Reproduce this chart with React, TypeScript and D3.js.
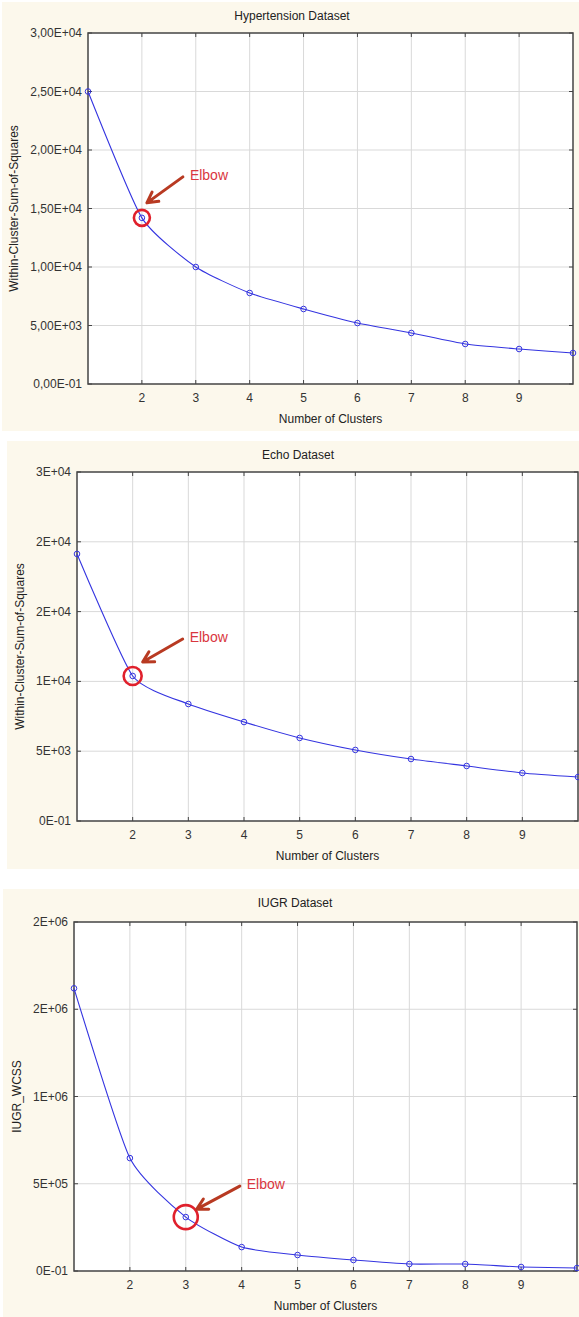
import React from "react";
import * as d3 from "d3";

// cluster counts on the x axis
const clusters = [1, 2, 3, 4, 5, 6, 7, 8, 9, 10];
const xTickValues = [2, 3, 4, 5, 6, 7, 8, 9];

// WCSS
const hypertensionWcss = [25000, 14200, 10000, 7780, 6410, 5210, 4360, 3420, 2990, 2650];
const echoWcss = [19130, 10390, 8380, 7090, 5950, 5090, 4440, 3940, 3440, 3150];
const iugrWcss = [1620000, 647000, 309000, 137000, 91600, 63000, 40000, 40000, 23000, 17000];

const hypertensionTicks = [0, 5000, 10000, 15000, 20000, 25000, 30000];
const hypertensionTickLabels = ["0,00E-01", "5,00E+03", "1,00E+04", "1,50E+04", "2,00E+04", "2,50E+04", "3,00E+04"];
const echoTicks = [0, 5000, 10000, 15000, 20000, 25000];
const echoTickLabels = ["0E-01", "5E+03", "1E+04", "2E+04", "2E+04", "3E+04"];
const iugrTicks = [0, 500000, 1000000, 1500000, 2000000];
const iugrTickLabels = ["0E-01", "5E+05", "1E+06", "2E+06", "2E+06"];

const FONT = "'Liberation Sans', Arial, sans-serif";
const LINE = "#3434e0";
const BG = "#fcf8ec";

type PanelProps = {
  title: string;
  yLabel: string;
  values: number[];
  ticks: number[];
  tickLabels: string[];
  bg: { x: number; y: number; w: number; h: number };
  plot: { left: number; top: number; right: number; bottom: number };
  titleX: number;
  yLabelX: number;
  elbow: number;
  elbowR: number;
  arrow: { tip: [number, number]; tail: [number, number] };
};

function Panel(p: PanelProps) {
  const { plot } = p;
  const x = d3.scaleLinear().domain([1, 10]).range([plot.left, plot.right]);
  const y = d3.scaleLinear().domain([0, p.ticks[p.ticks.length - 1]]).range([plot.bottom, plot.top]);
  const pts = clusters.map((c, i) => [x(c), y(p.values[i])] as [number, number]);
  const line = d3.line().curve(d3.curveCardinal.tension(0.45));

  const ex = x(clusters[p.elbow]);
  const ey = y(p.values[p.elbow]);
  const tip: [number, number] = [ex + p.arrow.tip[0], ey + p.arrow.tip[1]];
  const tail: [number, number] = [ex + p.arrow.tail[0], ey + p.arrow.tail[1]];
  const ang = Math.atan2(tail[1] - tip[1], tail[0] - tip[0]);
  const barb = (a: number) => [tip[0] + 12 * Math.cos(ang + a), tip[1] + 12 * Math.sin(ang + a)];
  const b1 = barb(0.5);
  const b2 = barb(-0.5);
  const midY = (plot.top + plot.bottom) / 2;
  const midX = (plot.left + plot.right) / 2;

  return (
    <g>
      <rect x={p.bg.x} y={p.bg.y} width={p.bg.w} height={p.bg.h} fill={BG} />
      <rect x={plot.left} y={plot.top} width={plot.right - plot.left} height={plot.bottom - plot.top} fill="#fff" />
      {xTickValues.map((v) => (
        <line key={"gx" + v} x1={x(v)} x2={x(v)} y1={plot.top} y2={plot.bottom} stroke="#d9d9d9" strokeWidth={1} />
      ))}
      {p.ticks.slice(1, -1).map((v) => (
        <line key={"gy" + v} x1={plot.left} x2={plot.right} y1={y(v)} y2={y(v)} stroke="#d9d9d9" strokeWidth={1} />
      ))}
      {xTickValues.map((v) => (
        <g key={"tx" + v}>
          <line x1={x(v)} x2={x(v)} y1={plot.top} y2={plot.top + 4} stroke="#444" />
          <line x1={x(v)} x2={x(v)} y1={plot.bottom} y2={plot.bottom - 4} stroke="#444" />
          <text x={x(v)} y={plot.bottom + 18} textAnchor="middle" fontSize={12} fill="#333" fontFamily={FONT}>
            {String(v)}
          </text>
        </g>
      ))}
      {p.ticks.map((v, i) => (
        <g key={"ty" + v}>
          <line x1={plot.left} x2={plot.left + 4} y1={y(v)} y2={y(v)} stroke="#444" />
          <line x1={plot.right} x2={plot.right - 4} y1={y(v)} y2={y(v)} stroke="#444" />
          <text x={plot.left - 6} y={y(v) + 4} textAnchor="end" fontSize={12} fill="#333" fontFamily={FONT}>
            {p.tickLabels[i]}
          </text>
        </g>
      ))}
      <path
        d={`M${plot.left},${plot.bottom}V${plot.top}H${plot.right}V${plot.bottom}Z`}
        fill="none"
        stroke="#444"
        strokeWidth={1.5}
      />
      <path d={line(pts) || ""} fill="none" stroke={LINE} strokeWidth={1.1} />
      {pts.map((d, i) => (
        <circle key={"pt" + i} cx={d[0]} cy={d[1]} r={2.8} fill="none" stroke={LINE} strokeWidth={1} />
      ))}
      <circle cx={ex} cy={ey} r={p.elbowR} fill="none" stroke="#e0202c" strokeWidth={2.6} />
      <path
        d={`M${tail[0]},${tail[1]}L${tip[0]},${tip[1]}M${b1[0]},${b1[1]}L${tip[0]},${tip[1]}L${b2[0]},${b2[1]}`}
        fill="none"
        stroke="#b83a22"
        strokeWidth={3}
        strokeLinecap="round"
        strokeLinejoin="round"
      />
      <text x={tail[0] + 7} y={tail[1] + 3} fontSize={14} fill="#d9363e" fontFamily={FONT}>
        Elbow
      </text>
      <text x={p.titleX} y={p.bg.y + 18} textAnchor="middle" fontSize={12} fill="#222" fontFamily={FONT}>
        {p.title}
      </text>
      <text x={midX} y={plot.bottom + 39} textAnchor="middle" fontSize={12} fill="#222" fontFamily={FONT}>
        Number of Clusters
      </text>
      <text
        transform={`translate(${p.yLabelX},${midY}) rotate(-90)`}
        textAnchor="middle"
        fontSize={12}
        fill="#222"
        fontFamily={FONT}
      >
        {p.yLabel}
      </text>
    </g>
  );
}

export default function App() {
  return (
    <svg width={579} height={1317} style={{ position: "absolute", left: 0, top: 0, background: "#fff" }}>
      <Panel
        title="Hypertension Dataset"
        yLabel="Within-Cluster-Sum-of-Squares"
        values={hypertensionWcss}
        ticks={hypertensionTicks}
        tickLabels={hypertensionTickLabels}
        bg={{ x: 2, y: 2, w: 577, h: 429 }}
        plot={{ left: 88, top: 33, right: 573, bottom: 384 }}
        titleX={292}
        yLabelX={18}
        elbow={1}
        elbowR={8}
        arrow={{ tip: [5, -15], tail: [41, -41] }}
      />
      <Panel
        title="Echo Dataset"
        yLabel="Within-Cluster-Sum-of-Squares"
        values={echoWcss}
        ticks={echoTicks}
        tickLabels={echoTickLabels}
        bg={{ x: 7, y: 441, w: 572, h: 428 }}
        plot={{ left: 77, top: 472, right: 578, bottom: 821 }}
        titleX={298}
        yLabelX={24}
        elbow={1}
        elbowR={9}
        arrow={{ tip: [10, -14], tail: [50, -37] }}
      />
      <Panel
        title="IUGR Dataset"
        yLabel="IUGR_WCSS"
        values={iugrWcss}
        ticks={iugrTicks}
        tickLabels={iugrTickLabels}
        bg={{ x: 3, y: 889, w: 576, h: 428 }}
        plot={{ left: 74, top: 922, right: 577, bottom: 1271 }}
        titleX={295}
        yLabelX={21}
        elbow={2}
        elbowR={12}
        arrow={{ tip: [11, -8], tail: [54, -31] }}
      />
    </svg>
  );
}
